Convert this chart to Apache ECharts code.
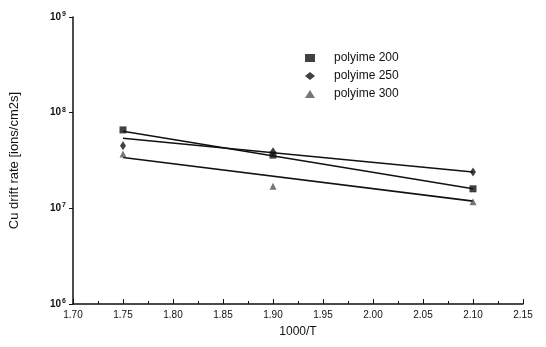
<!DOCTYPE html>
<html style="height:100%;width:100%">
<head>
	<meta charset="UTF-8">
	<title>Cu drift rate</title>
	<script src="https://cdn.jsdelivr.net/npm/echarts@6/dist/echarts.min.js"></script>
	<style type="text/css">
		body{ margin:0px; background-color:#FFFFFF; }
		#container{ width:546px; height:347px; }
	</style>
</head>
<body>
<div id="container"></div>
<script type="text/javascript">

// 1000/T values where measurements were taken
var temps = [1.75, 1.90, 2.10];
// measured drift rates (ions/cm2s)
var p200 = [6.6e7, 3.6e7, 1.6e7];
var p250 = [4.5e7, 3.9e7, 2.4e7];
var p300 = [3.7e7, 1.7e7, 1.17e7];
// fitted lines, value at 1.75 and at 2.10
var fitX = [1.75, 2.10];
var fit200 = [6.4e7, 1.6e7];
var fit250 = [5.4e7, 2.4e7];
var fit300 = [3.4e7, 1.19e7];
var seriesNames = ['polyime 200', 'polyime 250', 'polyime 300'];

var pair = function(xs, ys) {
	var out = [];
	for (var i = 0; i < xs.length; i++) out.push([xs[i], ys[i]]);
	return out;
};

var dom = document.getElementById("container");
var myChart = echarts.init(dom);
var font = 'Liberation Sans, Arial, sans-serif';

var fitLine = function(ys) {
	return {
		type: 'line',
		data: pair(fitX, ys),
		symbol: 'none',
		silent: true,
		lineStyle: { color: '#111', width: 1.6 },
		z: 2
	};
};

var option = {
	animation: false,
	textStyle: { fontFamily: font },
	grid: { left: 72, right: 23, top: 17, bottom: 43 },
	legend: {
		orient: 'vertical',
		left: 300,
		top: 47,
		itemWidth: 10,
		itemHeight: 8,
		itemGap: 6,
		textStyle: { fontSize: 12, color: '#111', fontFamily: font, padding: [0, 0, 0, 14] },
		data: [
			{ name: seriesNames[0], icon: 'rect' },
			{ name: seriesNames[1], icon: 'diamond' },
			{ name: seriesNames[2], icon: 'triangle' }
		]
	},
	xAxis: {
		type: 'value',
		min: 1.70,
		max: 2.15,
		interval: 0.05,
		name: '1000/T',
		nameLocation: 'middle',
		nameGap: 22,
		nameTextStyle: { fontSize: 12, color: '#111' },
		axisLine: { lineStyle: { color: '#111', width: 1.5 } },
		axisTick: { inside: true, length: 5, lineStyle: { color: '#111' } },
		minorTick: { show: true, splitNumber: 2, length: 3, lineStyle: { color: '#111' } },
		splitLine: { show: false },
		axisLabel: {
			fontSize: 10, color: '#111', margin: 6,
			formatter: function(v) { return v.toFixed(2); }
		}
	},
	yAxis: {
		type: 'log',
		logBase: 10,
		min: 1e6,
		max: 1e9,
		name: 'Cu drift rate [ions/cm2s]',
		nameLocation: 'middle',
		nameGap: 52,
		nameTextStyle: { fontSize: 13, color: '#111' },
		axisLine: { show: true, lineStyle: { color: '#111', width: 1.5 } },
		axisTick: { show: true, length: 4, lineStyle: { color: '#111' } },
		splitLine: { show: false },
		axisLabel: {
			color: '#111', margin: 7, fontWeight: 'bold',
			formatter: function(v) {
				return '10{sup|' + Math.round(Math.log10(v)) + '}';
			},
			rich: {
				sup: { fontSize: 7, fontWeight: 'bold', verticalAlign: 'top', padding: [0, 0, 6, 1], color: '#111' }
			},
			fontSize: 10
		}
	},
	series: [
		{
			name: seriesNames[0], type: 'scatter', data: pair(temps, p200),
			symbol: 'rect', symbolSize: 7, itemStyle: { color: '#111' }, z: 3
		},
		{
			name: seriesNames[1], type: 'scatter', data: pair(temps, p250),
			symbol: 'diamond', symbolSize: [6, 9], itemStyle: { color: '#111' }, z: 3
		},
		{
			name: seriesNames[2], type: 'scatter', data: pair(temps, p300),
			symbol: 'triangle', symbolSize: 7, itemStyle: { color: '#555' }, z: 3
		},
		fitLine(fit200),
		fitLine(fit250),
		fitLine(fit300)
	]
};

myChart.setOption(option, true);

window.onresize = function() {
	myChart.resize();
};
</script>
</body>
</html>
